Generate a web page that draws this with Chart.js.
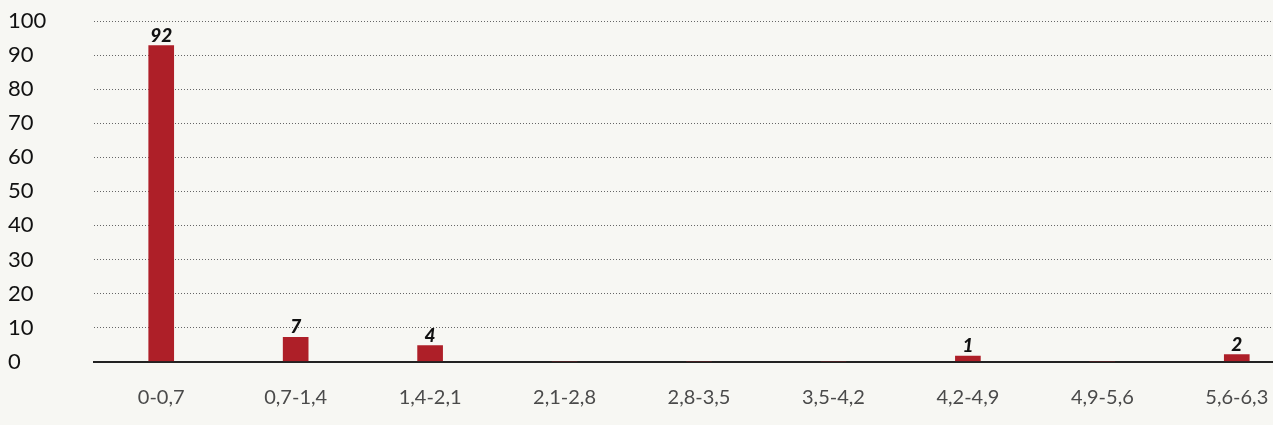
<!DOCTYPE html>
<html>
<head>
<meta charset="utf-8">
<script src="https://cdn.jsdelivr.net/npm/chart.js@4/dist/chart.umd.min.js"></script>
<style>
html,body{margin:0;padding:0;background:#f7f7f3;overflow:hidden;}
#wrap{position:relative;width:1306px;height:425px;}
</style>
</head>
<body>
<div id="wrap"><canvas id="c"></canvas></div>
<script>
const categories = ['0-0,7','0,7-1,4','1,4-2,1','2,1-2,8','2,8-3,5','3,5-4,2','4,2-4,9','4,9-5,6','5,6-6,3'];
const values = [92.8, 7.1, 4.7, 0, 0, 0, 1.6, 0, 2.0];
const pointLabels = ['92','7','4','','','','1','','2'];

const valueLabels = {
  id: 'valueLabels',
  afterDatasetsDraw(chart) {
    const ctx = chart.ctx;
    const meta = chart.getDatasetMeta(0);
    ctx.save();
    ctx.font = 'italic 900 19px Lato';
    ctx.fillStyle = '#111';
    ctx.textAlign = 'center';
    ctx.textBaseline = 'alphabetic';
    meta.data.forEach((bar, i) => {
      if (!pointLabels[i]) return;
      ctx.fillText(pointLabels[i], bar.x, bar.y - 4);
    });
    ctx.restore();
  }
};

new Chart(document.getElementById('c'), {
  type: 'bar',
  data: {
    labels: categories,
    datasets: [{
      data: values,
      backgroundColor: '#ae1f28',
      barThickness: 25
    }]
  },
  options: {
    responsive: true,
    maintainAspectRatio: false,
    animation: false,
    layout: { padding: { left: 8, top: 19, right: 2, bottom: 0 } },
    plugins: { legend: { display: false }, tooltip: { enabled: false } },
    scales: {
      x: {
        grid: { display: false },
        border: { display: true, color: '#222', width: 2 },
        ticks: { color: '#4a4a4a', font: { family: 'Lato', size: 20 }, padding: 16, maxRotation: 0 },
        afterFit(s) { s.height = 63.5; }
      },
      y: {
        min: 0, max: 100,
        ticks: { stepSize: 10, color: '#111', font: { family: 'Lato', size: 22 }, crossAlign: 'far', padding: 8 },
        grid: {
          drawTicks: false,
          color: (c) => c.tick && c.tick.value === 0 ? 'rgba(0,0,0,0)' : '#666',
          lineWidth: 1
        },
        border: { display: false, dash: [1, 2] },
        afterFit(s) { s.width = 86; }
      }
    }
  },
  plugins: [valueLabels]
});
</script>
</body>
</html>
